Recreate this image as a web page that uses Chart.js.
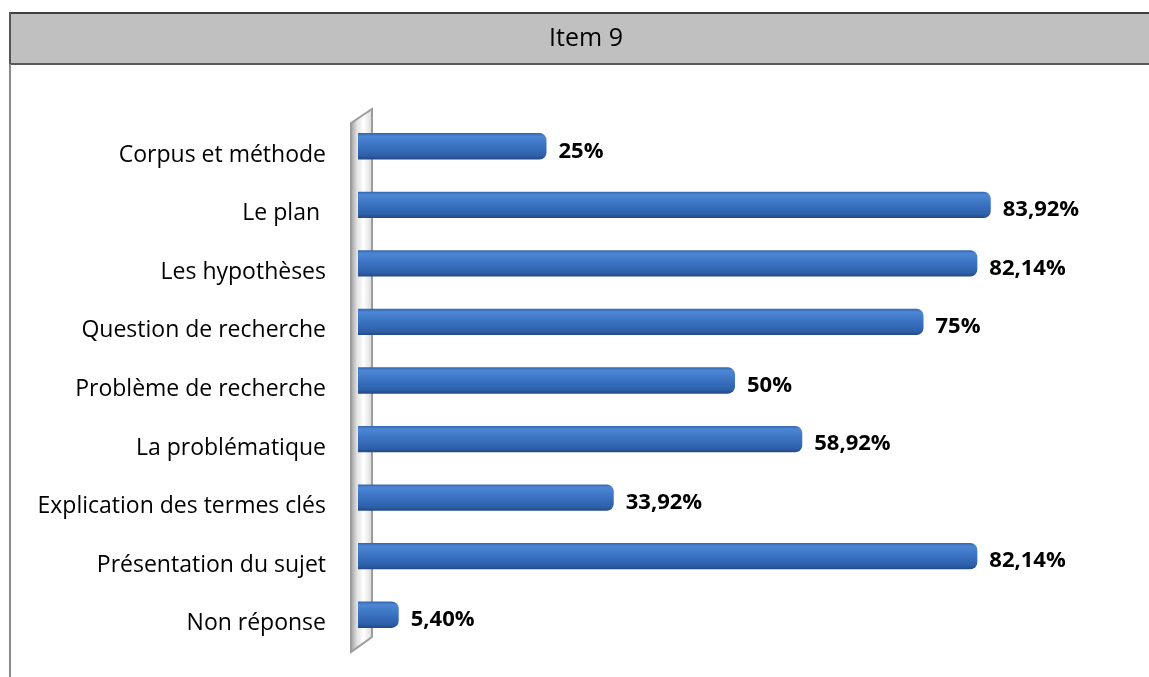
<!DOCTYPE html>
<html>
<head>
<meta charset="utf-8">
<title>Item 9</title>
<script src="https://cdn.jsdelivr.net/npm/chart.js@4.4.0/dist/chart.umd.min.js"></script>
<style>
  body { margin: 0; background: #fff; }
  #wrap { width: 1149px; height: 677px; }
</style>
</head>
<body>
<div id="wrap"><canvas id="item9" width="1149" height="677"></canvas></div>
<script>
var categories = [
    "Corpus et méthode",
    "Le plan ",
    "Les hypothèses",
    "Question de recherche",
    "Problème de recherche",
    "La problématique",
    "Explication des termes clés",
    "Présentation du sujet",
    "Non réponse"
];
var values = [25, 83.92, 82.14, 75, 50, 58.92, 33.92, 82.14, 5.40];
var titleText = "Item 9";
var fontFamily = "'Open Sans', 'Noto Sans', sans-serif";

function pct(v) {
    if (Math.round(v) === v) return v + "%";
    return v.toFixed(2).replace(".", ",") + "%";
}

// bar fill: vertical blue gradient per bar
function barFill(c) {
    var chart = c.chart;
    var sc = chart.scales && chart.scales.y;
    if (!chart.chartArea || !sc || c.type !== 'data') return '#3a6fbf';
    var y = sc.getPixelForValue(c.dataIndex);
    var h = sc.height / categories.length * 0.45;
    var g = chart.ctx.createLinearGradient(0, y - h / 2, 0, y + h / 2);
    g.addColorStop(0, '#3464ae');
    g.addColorStop(0.12, '#4d87d4');
    g.addColorStop(0.45, '#3c74c4');
    g.addColorStop(0.85, '#2e60aa');
    g.addColorStop(1, '#224985');
    return g;
}

// title band, title text and outer frame
var framePlugin = {
    id: 'frame',
    beforeDraw: function (chart) {
        var ctx = chart.ctx;
        ctx.save();
        ctx.fillStyle = '#c0c0c0';
        ctx.fillRect(9, 13, chart.width - 9, 51);
        ctx.strokeStyle = '#404040';
        ctx.lineWidth = 2;
        ctx.beginPath(); ctx.moveTo(9, 13); ctx.lineTo(chart.width, 13); ctx.stroke();
        ctx.strokeStyle = '#5a5a5a';
        ctx.beginPath(); ctx.moveTo(9, 64); ctx.lineTo(chart.width, 64); ctx.stroke();
        ctx.strokeStyle = '#555';
        ctx.beginPath(); ctx.moveTo(10, 12); ctx.lineTo(10, 64); ctx.stroke();
        ctx.strokeStyle = '#8a8a8a';
        ctx.beginPath(); ctx.moveTo(10, 64); ctx.lineTo(10, chart.height); ctx.stroke();

        ctx.fillStyle = '#000';
        ctx.font = "25px " + fontFamily;
        ctx.textAlign = 'center';
        ctx.textBaseline = 'middle';
        ctx.fillText(titleText, 586, 39);
        ctx.restore();
    }
};

// slanted 3D wall behind the category axis
var wallPlugin = {
    id: 'wall',
    beforeDatasetsDraw: function (chart) {
        var ctx = chart.ctx, a = chart.chartArea;
        var x0 = chart.scales.x.getPixelForValue(0);
        var xl = x0 - 7, xr = x0 + 14;
        ctx.save();
        ctx.beginPath();
        ctx.moveTo(xl, a.top + 6);
        ctx.lineTo(xr, a.top - 8);
        ctx.lineTo(xr, a.bottom - 7);
        ctx.lineTo(xl, a.bottom + 8);
        ctx.closePath();
        var g = ctx.createLinearGradient(xl, 0, xr, 0);
        g.addColorStop(0, '#a0a0a0');
        g.addColorStop(0.3, '#e4e4e4');
        g.addColorStop(0.6, '#ffffff');
        g.addColorStop(1, '#dadada');
        ctx.fillStyle = g;
        ctx.fill();
        ctx.strokeStyle = '#9c9c9c';
        ctx.lineWidth = 2;
        ctx.stroke();
        ctx.restore();
    }
};

// value labels at the end of each bar
var valueLabels = {
    id: 'valueLabels',
    afterDatasetsDraw: function (chart) {
        var ctx = chart.ctx;
        var meta = chart.getDatasetMeta(0);
        ctx.save();
        ctx.font = "bold 22px " + fontFamily;
        ctx.fillStyle = '#000';
        ctx.textAlign = 'left';
        ctx.textBaseline = 'middle';
        meta.data.forEach(function (bar, i) {
            ctx.fillText(pct(values[i]), bar.x + 12, bar.y + 5);
        });
        ctx.restore();
    }
};

var chart = new Chart(document.getElementById('item9').getContext('2d'), {
    type: 'bar',
    data: {
        labels: categories,
        datasets: [{
            label: titleText,
            data: values,
            backgroundColor: barFill,
            borderWidth: 0,
            borderRadius: { topRight: 7, bottomRight: 7 },
            borderSkipped: 'start',
            barPercentage: 0.45,
            categoryPercentage: 1
        }]
    },
    options: {
        indexAxis: 'y',
        responsive: false,
        devicePixelRatio: 1,
        animation: false,
        layout: { padding: { left: 0, right: 37, top: 117, bottom: 33 } },
        plugins: {
            legend: { display: false },
            tooltip: { enabled: false },
            title: { display: false }
        },
        scales: {
            x: { display: false, min: 0, max: 100 },
            y: {
                grid: { display: false },
                border: { display: false },
                ticks: {
                    color: '#000',
                    padding: 24,
                    labelOffset: 9,
                    font: { family: fontFamily, size: 23 }
                },
                afterFit: function (s) {
                    s.width = 358;
                    s.paddingTop = 0;
                    s.paddingBottom = 0;
                }
            }
        }
    },
    plugins: [framePlugin, wallPlugin, valueLabels]
});
</script>
</body>
</html>
